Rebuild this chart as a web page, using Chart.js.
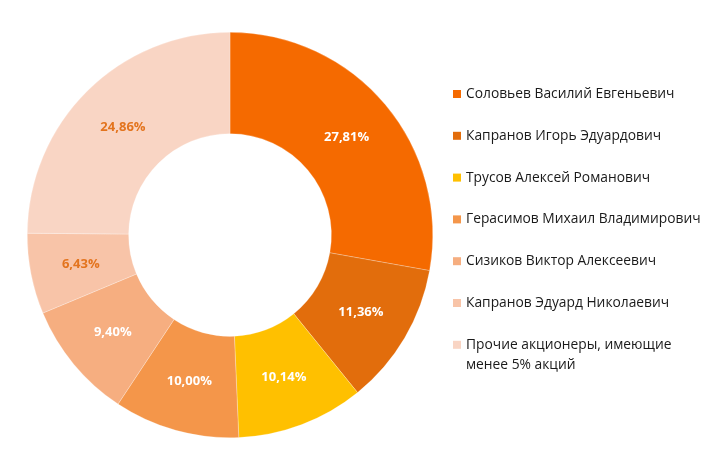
<!DOCTYPE html>
<html>
<head>
<meta charset="utf-8">
<script src="https://cdn.jsdelivr.net/npm/chart.js@4.4.1/dist/chart.umd.min.js"></script>
<style>
  html, body { margin: 0; padding: 0; background: #ffffff; }
  #wrap { width: 710px; height: 459px; position: relative; }
</style>
</head>
<body>
<div id="wrap"><canvas id="shareChart" width="710" height="459"></canvas></div>
<script>
// shareholders and their stakes, %
const categories = [
  "Соловьев Василий Евгеньевич",
  "Капранов Игорь Эдуардович",
  "Трусов Алексей Романович",
  "Герасимов Михаил Владимирович",
  "Сизиков Виктор Алексеевич",
  "Капранов Эдуард Николаевич",
  ["Прочие акционеры, имеющие", "менее 5% акций"]
];
const shares = [27.81, 11.36, 10.14, 10.00, 9.40, 6.43, 24.86];
const sliceColors = ["#F56A00", "#E26D0C", "#FFC000", "#F4964A", "#F6AE80", "#F8C4A8", "#F9D5C4"];
const labelColors = ["#ffffff", "#ffffff", "#ffffff", "#ffffff", "#ffffff", "#E3741E", "#E3741E"];

const FONT = "'Open Sans', sans-serif";

// percent labels in the middle of each arc
const sliceLabels = {
  id: "sliceLabels",
  afterDatasetsDraw(chart) {
    const ctx = chart.ctx;
    const meta = chart.getDatasetMeta(0);
    ctx.save();
    ctx.font = "bold 13px " + FONT;
    ctx.textAlign = "center";
    ctx.textBaseline = "middle";
    meta.data.forEach((arc, i) => {
      const p = arc.getCenterPoint();
      ctx.fillStyle = labelColors[i];
      ctx.fillText(shares[i].toFixed(2).replace(".", ",") + "%", p.x, p.y);
    });
    ctx.restore();
  }
};

// legend on the right, Excel style
const sideLegend = {
  id: "sideLegend",
  afterDraw(chart) {
    const ctx = chart.ctx;
    const x0 = 453, y0 = 94, step = 41.8, lineH = 20;
    ctx.save();
    ctx.font = "13.8px " + FONT;
    ctx.textBaseline = "middle";
    ctx.textAlign = "left";
    categories.forEach((name, i) => {
      const y = y0 + i * step;
      ctx.fillStyle = sliceColors[i];
      ctx.fillRect(x0, y - 4, 8, 8);
      ctx.fillStyle = "#1a1a1a";
      const lines = Array.isArray(name) ? name : [name];
      lines.forEach((ln, k) => ctx.fillText(ln, x0 + 13, y + k * lineH));
    });
    ctx.restore();
  }
};

new Chart(document.getElementById("shareChart"), {
  type: "doughnut",
  data: {
    labels: categories,
    datasets: [{
      data: shares,
      backgroundColor: sliceColors,
      borderColor: "rgba(255,255,255,0.5)",
      borderWidth: 0.5
    }]
  },
  options: {
    responsive: false,
    animation: false,
    cutout: "50%",
    layout: { padding: { left: 27, top: 32, right: 277, bottom: 21 } },
    plugins: {
      legend: { display: false },
      tooltip: { enabled: false }
    }
  },
  plugins: [sliceLabels, sideLegend]
});
</script>
</body>
</html>
